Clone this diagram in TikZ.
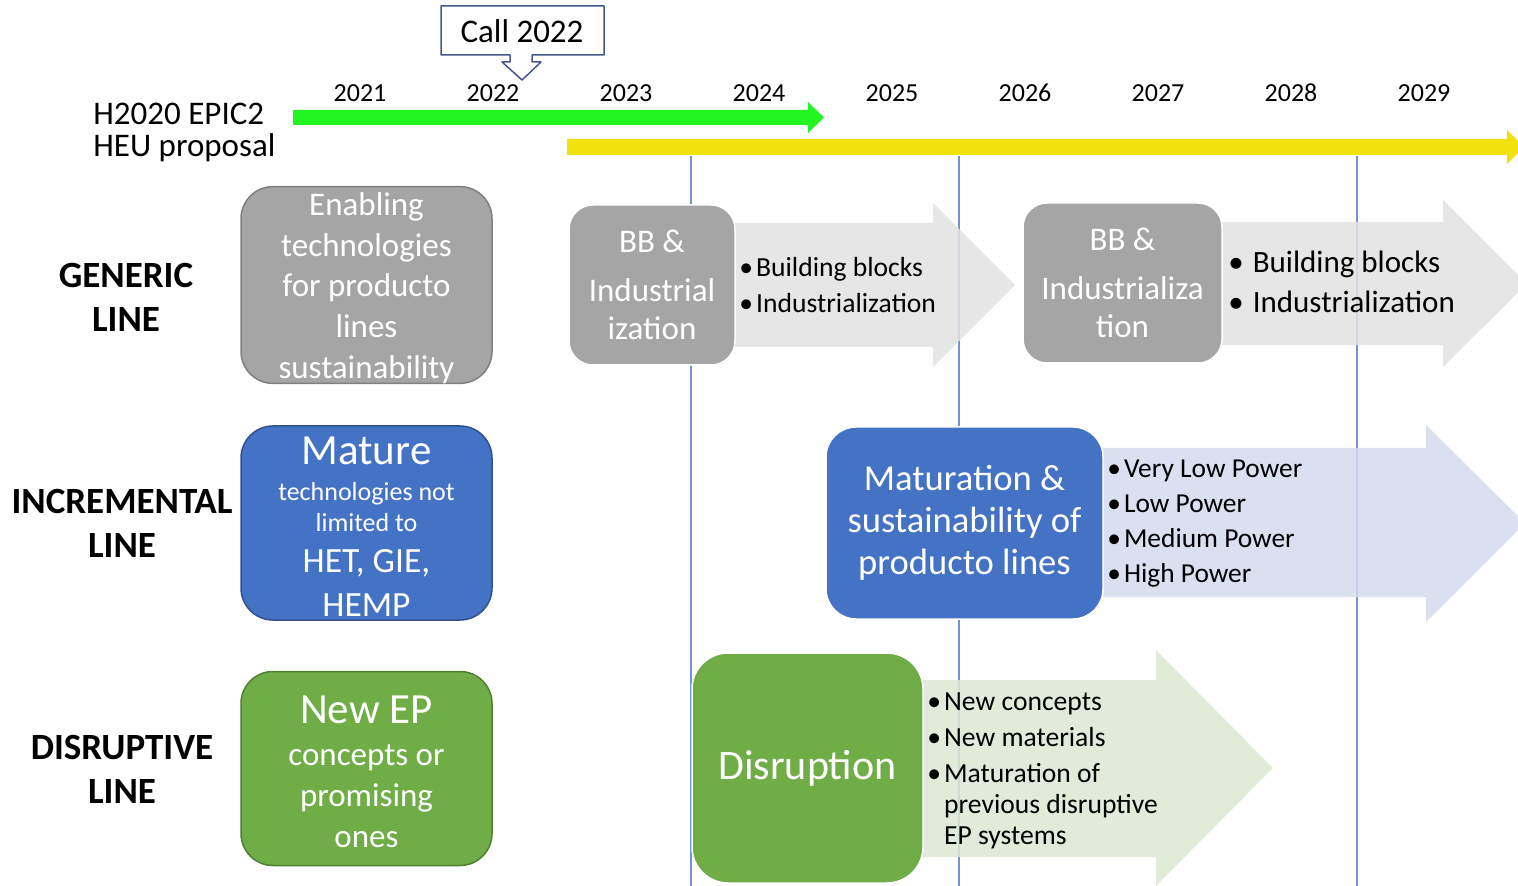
\documentclass[tikz,border=0pt]{standalone}
\usepackage{fontspec}
\setmainfont{Carlito}
\newcommand\fsz[2]{\fontsize{#1pt}{#2pt}\selectfont}
\newcommand\bul{\textbullet\hspace{1.5pt}}
\definecolor{greenbar}{RGB}{35,245,35}
\definecolor{yellowbar}{RGB}{242,226,12}
\definecolor{boxgrey}{RGB}{165,165,165}
\definecolor{boxgreyline}{RGB}{128,128,128}
\definecolor{boxblue}{RGB}{68,114,196}
\definecolor{boxblueline}{RGB}{47,82,143}
\definecolor{boxgreen}{RGB}{112,173,71}
\definecolor{boxgreenline}{RGB}{80,126,50}
\definecolor{arrowgrey}{RGB}{226,226,226}
\definecolor{arrowblue}{RGB}{213,219,239}
\definecolor{arrowgreen}{RGB}{221,232,212}
\definecolor{yearline}{RGB}{114,147,207}
\definecolor{calloutline}{RGB}{68,90,140}
\tikzset{
  linebox/.style={rounded corners=16pt,line width=.75pt,minimum width=125.5pt,
    minimum height=97pt,inner sep=0pt,text=white,align=center},
  phasebox/.style={rounded corners=13pt,draw=white,line width=.75pt,inner sep=0pt,
    text=white,align=center},
  bigarrow/.style={fill opacity=.85},
  bullets/.style={anchor=west,align=left,inner sep=0pt},
  rowlabel/.style={font=\bfseries\fsz{18.5}{22},align=center},
  vline/.style={draw=yearline,line width=.6pt}
}
\begin{document}
\begin{tikzpicture}[x=.5pt,y=-.5pt,line join=round]
\useasboundingbox (0,0) rectangle (1518,886);
\clip (0,0) rectangle (1518,886);
\foreach \vx in {691,959,1357} \draw[vline] (\vx,156)--(\vx,886);
\fill[greenbar] (293,110)--(808,110)--(808,102)--(824,117.5)--(808,133)--(808,125)--(293,125)--cycle;
\fill[yellowbar] (567,139)--(1507,139)--(1507,130)--(1524,147)--(1507,164)--(1507,155)--(567,155)--cycle;
\draw[calloutline,fill=white,line width=.75pt] (441,6)--(604,6)--(604,55)--(532,55)--(532,62)--(541,62)
  --(522,80)--(502,62)--(510,62)--(510,55)--(441,55)--cycle;
\node (call) at (522,31) {\fsz{16.5}{20}Call 2022};
\foreach \yr [count=\i from 0] in {2021,...,2029}
  \node (y\yr) at (360+133*\i,93) {\fsz{13}{15}\yr};
\node[anchor=west,align=left,inner sep=0pt,font=\fsz{16.5}{16}] (prog) at (93,132) {H2020 EPIC2\\HEU proposal};
\node[rowlabel] (generic) at (126,297) {GENERIC\\LINE};
\node[rowlabel] (incremental) at (122,523) {INCREMENTAL\\LINE};
\node[rowlabel] (disruptive) at (122,769) {DISRUPTIVE\\LINE};
\fill[arrowgrey,bigarrow] (700,223)--(933,223)--(933,203)--(1015,285)--(933,367)--(933,347)--(700,347)--cycle;
\fill[arrowgrey,bigarrow] (1190,222)--(1443,222)--(1443,200)--(1527,283.5)--(1443,367)--(1443,345)--(1190,345)--cycle;
\fill[arrowblue,bigarrow] (1070,448)--(1426,448)--(1426,425)--(1525,523)--(1426,622)--(1426,597)--(1070,597)--cycle;
\fill[arrowgreen,bigarrow] (890,680)--(1156,680)--(1156,650)--(1273,768)--(1156,886)--(1156,857)--(890,857)--cycle;
\node[linebox,fill=boxgrey,draw=boxgreyline,font=\fsz{16.5}{20.3}] (enabling) at (366.5,285)
  {\rule{0pt}{14.5pt}Enabling\\technologies\\for producto\\lines\\sustainability};
\node[linebox,fill=boxblue,draw=boxblueline,font=\fsz{13}{15.5}] (mature) at (366.5,523)
  {\fsz{21.5}{15.5}\rule{0pt}{17pt}Mature\\[2.5pt]technologies not\\limited to\\[5pt]\fsz{17.75}{15.5}HET, GIE,\\[6.5pt]\fsz{17.75}{15.5}HEMP};
\node[linebox,fill=boxgreen,draw=boxgreenline,font=\fsz{16.5}{20}] (newep) at (366.5,768.5)
  {\fsz{21.5}{20}\rule{0pt}{17pt}New EP\\[1pt]concepts or\\[.5pt]promising\\[.5pt]ones};
\node[phasebox,fill=boxgrey,minimum width=83pt,minimum height=80pt,rounded corners=12pt,font=\fsz{16.5}{19}]
  (bbone) at (652,285) {BB \&\\[5.5pt]Industrial\\ization};
\node[phasebox,fill=boxgrey,minimum width=99.5pt,minimum height=80pt,rounded corners=12pt,font=\fsz{16.5}{19}]
  (bbtwo) at (1122.5,283) {BB \&\\[5.5pt]Industrializa\\tion};
\node[phasebox,fill=boxblue,minimum width=138.5pt,minimum height=96pt,rounded corners=15pt,font=\fsz{18.3}{21}]
  (maturation) at (964.5,523) {Maturation \&\\sustainability of\\producto lines};
\node[phasebox,fill=boxgreen,minimum width=115.5pt,minimum height=115pt,rounded corners=18pt,font=\fsz{21}{25}]
  (disruption) at (807.5,768) {Disruption};
\node[bullets,font=\fsz{13.8}{18}] (bbonelist) at (739,285)
  {\bul Building blocks\\\bul Industrialization};
\node[bullets,font=\fsz{15.5}{20}] (bbtwolist) at (1228,282)
  {\textbullet\hspace{4.5pt}Building blocks\\\textbullet\hspace{4.5pt}Industrialization};
\node[bullets,font=\fsz{13.7}{17.5}] (powerlist) at (1107,524)
  {\bul Very Low Power\\\bul Low Power\\\bul Medium Power\\\bul High Power};
\node[bullets,font=\fsz{13.8}{15.5}] (disruptlist) at (927,771)
  {\bul New concepts\\[2.5pt]\bul New materials\\[2.5pt]\bul Maturation of\\
   \phantom{\bul}previous disruptive\\\phantom{\bul}EP systems};
\end{tikzpicture}
\end{document}
